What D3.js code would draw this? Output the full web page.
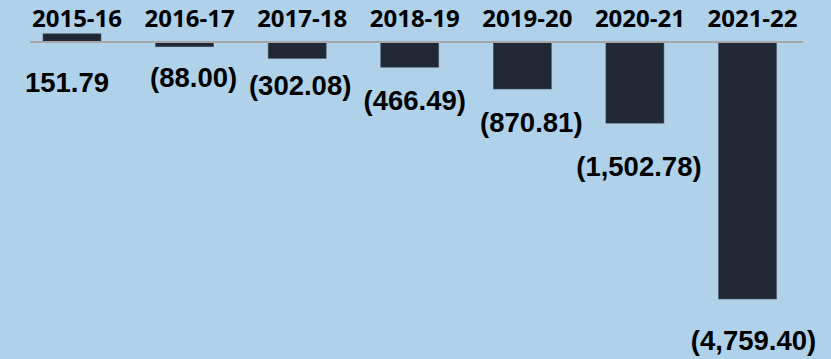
<!DOCTYPE html>
<html><head><meta charset="utf-8">
<script src="https://cdn.jsdelivr.net/npm/d3@7"></script>
<style>
html,body{margin:0;padding:0;background:#afd1ea;}
svg{display:block;}
</style></head>
<body>
<svg id="chart" width="831" height="359"></svg>
<script>
const categories = ["2015-16","2016-17","2017-18","2018-19","2019-20","2020-21","2021-22"];
const values = [151.79, -88.00, -302.08, -466.49, -870.81, -1502.78, -4759.40];
const valueLabels = ["151.79","(88.00)","(302.08)","(466.49)","(870.81)","(1,502.78)","(4,759.40)"];
// layout: label baseline offset below bar end, and horizontal nudge
const labelDy = [50, 40, 37, 43, 43, 53, 51];
const labelDx = [-5, 9, 3, 5, 9, 4, 6];

const svg = d3.select("#chart");
const W = 831, H = 359;
svg.append("rect").attr("width", W).attr("height", H).attr("fill", "#afd1ea");

const x = d3.scaleBand().domain(categories).range([15.7, 803.8]).paddingInner(0.485).paddingOuter(0.2425);
const y = d3.scaleLinear().domain([-5000, 500]).range([312, 15]);

// bars
svg.selectAll("rect.bar").data(values).enter().append("rect")
  .attr("class","bar")
  .attr("x", (d,i) => x(categories[i]))
  .attr("width", x.bandwidth())
  .attr("y", d => y(Math.max(0,d)))
  .attr("height", d => Math.abs(y(d) - y(0)))
  .attr("fill", "#222833")
  .attr("stroke", "#4a5566").attr("stroke-width", 0.6);

// zero line
svg.append("line")
  .attr("x1", 30).attr("x2", 803)
  .attr("y1", y(0)).attr("y2", y(0))
  .attr("stroke", "#a6a6a6").attr("stroke-width", 2);

// category labels
const xAxis = d3.axisTop(x).tickSize(0).tickPadding(0);
const gx = svg.append("g").attr("transform", "translate(5,27)").call(xAxis);
gx.select(".domain").remove();
gx.selectAll("text")
  .attr("dy", 0)
  .attr("font-family", "'Open Sans', sans-serif")
  .attr("font-weight", 700)
  .attr("font-size", 24)
  .attr("fill", "#000");

// value labels
svg.selectAll("text.val").data(values).enter().append("text")
  .attr("class","val")
  .attr("x", (d,i) => x(categories[i]) + x.bandwidth()/2 + labelDx[i])
  .attr("y", (d,i) => (d >= 0 ? y(0) : y(d)) + labelDy[i])
  .attr("text-anchor", "middle")
  .attr("font-family", "'Liberation Sans', Arial, sans-serif")
  .attr("font-weight", 700)
  .attr("font-size", 27.5)
  .attr("fill", "#000")
  .text((d,i) => valueLabels[i]);
</script>
</body></html>
